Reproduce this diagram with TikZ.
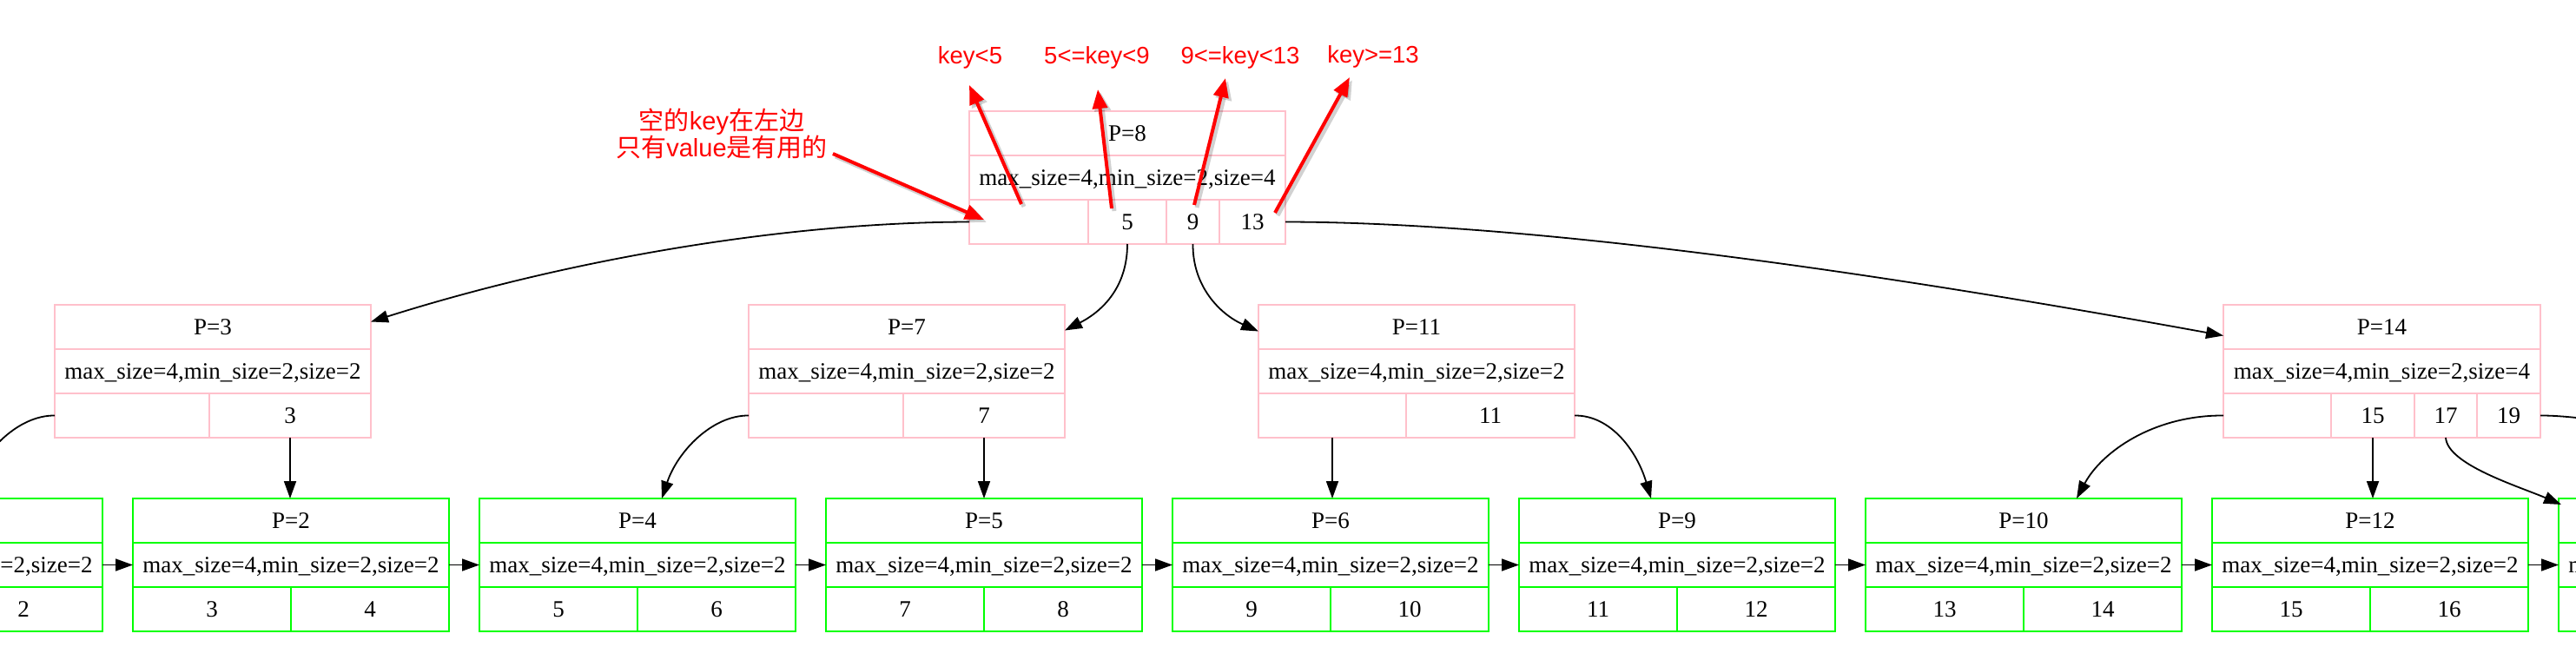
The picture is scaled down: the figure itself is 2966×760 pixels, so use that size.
\documentclass[tikz,border=0pt]{standalone}
\usepackage{fontspec}
\setmainfont{Liberation Serif}
\newfontfamily\sansf{Liberation Sans}
\newfontfamily\cjkf{Noto Sans CJK SC}
\usetikzlibrary{arrows.meta}
\definecolor{pinkc}{RGB}{255,192,203}
\definecolor{greenc}{RGB}{0,255,0}
\newcommand\mycell[7]{%
  \pgfmathsetmacro\mycw{(#3)-(#2)}%
  \pgfmathsetmacro\mych{(#5)-(#4)}%
  \pgfmathsetmacro\mycx{((#2)+(#3))/2}%
  \pgfmathsetmacro\mycy{((#4)+(#5))/2}%
  \node[#6, minimum width=\mycw pt, minimum height=\mych pt] (#1) at (\mycx,\mycy) {#7};}
\newcommand\leafnode[5]{%
  \mycell{#1t}{#2}{#2+364}{574}{625}{leafbox}{#3}%
  \mycell{#1m}{#2}{#2+364}{625}{676}{leafbox}{max\_size=4,min\_size=2,size=2}%
  \mycell{#1a}{#2}{#2+182}{676}{727}{leafbox}{#4}%
  \mycell{#1b}{#2+182}{#2+364}{676}{727}{leafbox}{#5}}
\tikzset{
  cellbase/.style={rectangle, inner sep=0pt, outer sep=0pt, line width=2pt,
    text height=18pt, text depth=0pt, font=\fontsize{27}{32}\selectfont},
  pinkbox/.style={cellbase, draw=pinkc},
  leafbox/.style={cellbase, draw=greenc},
  blk/.style={draw=black, line width=1.8pt, -{Triangle[length=20pt,width=14pt]}},
  redarrow/.style={draw=red, line width=4pt, -{Triangle[length=22pt,width=17pt]}},
  shadowarrow/.style={draw=black, opacity=0.18, line width=5pt, -{Triangle[length=22pt,width=18pt]}},
  redlab/.style={text=red, inner sep=0pt, text height=20pt, text depth=0pt,
    font=\sansf\fontsize{27.5}{30}\selectfont},
  cnlab/.style={text=red, inner sep=0pt, align=center,
    font=\sansf\fontsize{29}{31}\selectfont}
}
\begin{document}
\begin{tikzpicture}[x=1pt,y=-1pt]
\useasboundingbox[fill=white] (0,0) rectangle (2966,760);
\clip (0,0) rectangle (2966,760);
% root
\mycell{rt}{1116}{1480}{128}{179}{pinkbox}{P=8}
\mycell{rm}{1116}{1480}{179}{230}{pinkbox}{max\_size=4,min\_size=2,size=4}
\mycell{r0}{1116}{1253}{230}{281}{pinkbox}{}
\mycell{r1}{1253}{1343}{230}{281}{pinkbox}{5}
\mycell{r2}{1343}{1404}{230}{281}{pinkbox}{9}
\mycell{r3}{1404}{1480}{230}{281}{pinkbox}{13}
% P=3
\mycell{p3t}{63}{427}{351}{402}{pinkbox}{P=3}
\mycell{p3m}{63}{427}{402}{453}{pinkbox}{max\_size=4,min\_size=2,size=2}
\mycell{p3a}{63}{241}{453}{504}{pinkbox}{}
\mycell{p3b}{241}{427}{453}{504}{pinkbox}{3}
% P=7
\mycell{p7t}{862}{1226}{351}{402}{pinkbox}{P=7}
\mycell{p7m}{862}{1226}{402}{453}{pinkbox}{max\_size=4,min\_size=2,size=2}
\mycell{p7a}{862}{1040}{453}{504}{pinkbox}{}
\mycell{p7b}{1040}{1226}{453}{504}{pinkbox}{7}
% P=11
\mycell{p11t}{1449}{1813}{351}{402}{pinkbox}{P=11}
\mycell{p11m}{1449}{1813}{402}{453}{pinkbox}{max\_size=4,min\_size=2,size=2}
\mycell{p11a}{1449}{1619}{453}{504}{pinkbox}{}
\mycell{p11b}{1619}{1813}{453}{504}{pinkbox}{11}
% P=14
\mycell{p14t}{2560}{2925}{351}{402}{pinkbox}{P=14}
\mycell{p14m}{2560}{2925}{402}{453}{pinkbox}{max\_size=4,min\_size=2,size=4}
\mycell{p14a}{2560}{2684}{453}{504}{pinkbox}{}
\mycell{p14b}{2684}{2780}{453}{504}{pinkbox}{15}
\mycell{p14c}{2780}{2852}{453}{504}{pinkbox}{17}
\mycell{p14d}{2852}{2925}{453}{504}{pinkbox}{19}
% leaves
\leafnode{L0}{-246}{}{}{2}
\leafnode{L1}{153}{P=2}{3}{4}
\leafnode{L2}{552}{P=4}{5}{6}
\leafnode{L3}{951}{P=5}{7}{8}
\leafnode{L4}{1350}{P=6}{9}{10}
\leafnode{L5}{1749}{P=9}{11}{12}
\leafnode{L6}{2148}{P=10}{13}{14}
\leafnode{L7}{2547}{P=12}{15}{16}
\leafnode{L8}{2946}{}{}{}
\coordinate (offend) at (3300,574);
% tree edges
\draw[blk] (r0.west) .. controls (900,256) and (650,300) .. ([yshift=6pt]p3t.east);
\draw[blk] (r1.south) .. controls (1298,330) and (1270,358) .. ([yshift=-4pt]p7t.east);
\draw[blk] (r2.south) .. controls (1373,330) and (1405,362) .. ([yshift=-5pt]p11t.west);
\draw[blk] (r3.east) .. controls (1800,256) and (2250,330) .. ([yshift=-10pt]p14t.west);
\draw[blk] (p3a.west) .. controls (21,478) and (-19,520) .. ([xshift=27pt]L0t.north);
\draw[blk] (p3b.south) -- (p3b.south |- L1t.north);
\draw[blk] (p7a.west) .. controls (820,478) and (780,520) .. ([xshift=28pt]L2t.north);
\draw[blk] (p7b.south) -- (p7b.south |- L3t.north);
\draw[blk] (p11a.south) -- (p11a.south |- L4t.north);
\draw[blk] (p11b.east) .. controls (1855,478) and (1885,520) .. ([xshift=-30pt]L5t.north);
\draw[blk] (p14a.west) .. controls (2480,478) and (2420,520) .. ([xshift=61pt]L6t.north);
\draw[blk] (p14b.south) -- (p14b.south |- L7t.north);
\draw[blk] (p14c.south) .. controls (2818,535) and (2900,560) .. ([shift={(3pt,-7pt)}]L8t.north west);
\draw[blk] (p14d.east) .. controls (3000,478) and (3200,520) .. (offend);
% leaf links
\foreach \i/\j in {0/1,1/2,2/3,3/4,4/5,5/6,6/7,7/8}
  \draw[blk] (L\i m.east) -- (L\j m.west);
% red annotations
\node[redlab] (k1) at (1117,64) {key<5};
\node[redlab] (k2) at (1263,64) {5<=key<9};
\node[redlab] (k3) at (1428,64) {9<=key<13};
\node[redlab] (k4) at (1581,63) {key>=13};
\node[cnlab] (cn) at (831,154) {{\cjkf 空的}key{\cjkf 在左边}\\{\cjkf 只有}value{\cjkf 是有用的}};
\coordinate (a1s) at (1176,235); \coordinate (a1e) at (1116,98);
\coordinate (a2s) at (1280,240); \coordinate (a2e) at (1264,103);
\coordinate (a3s) at (1375,236); \coordinate (a3e) at (1411,90);
\coordinate (a4s) at (1468,245); \coordinate (a4e) at (1554,89);
\coordinate (a5s) at (959,177);  \coordinate (a5e) at (1133,253);
\begin{scope}[transform canvas={shift={(3pt,-3pt)}}]
  \draw[shadowarrow] (a1s) -- (a1e);
  \draw[shadowarrow] (a2s) -- (a2e);
  \draw[shadowarrow] (a3s) -- (a3e);
  \draw[shadowarrow] (a4s) -- (a4e);
  \draw[shadowarrow] (a5s) -- (a5e);
\end{scope}
\draw[redarrow] (a1s) -- (a1e);
\draw[redarrow] (a2s) -- (a2e);
\draw[redarrow] (a3s) -- (a3e);
\draw[redarrow] (a4s) -- (a4e);
\draw[redarrow] (a5s) -- (a5e);
\end{tikzpicture}
\end{document}
